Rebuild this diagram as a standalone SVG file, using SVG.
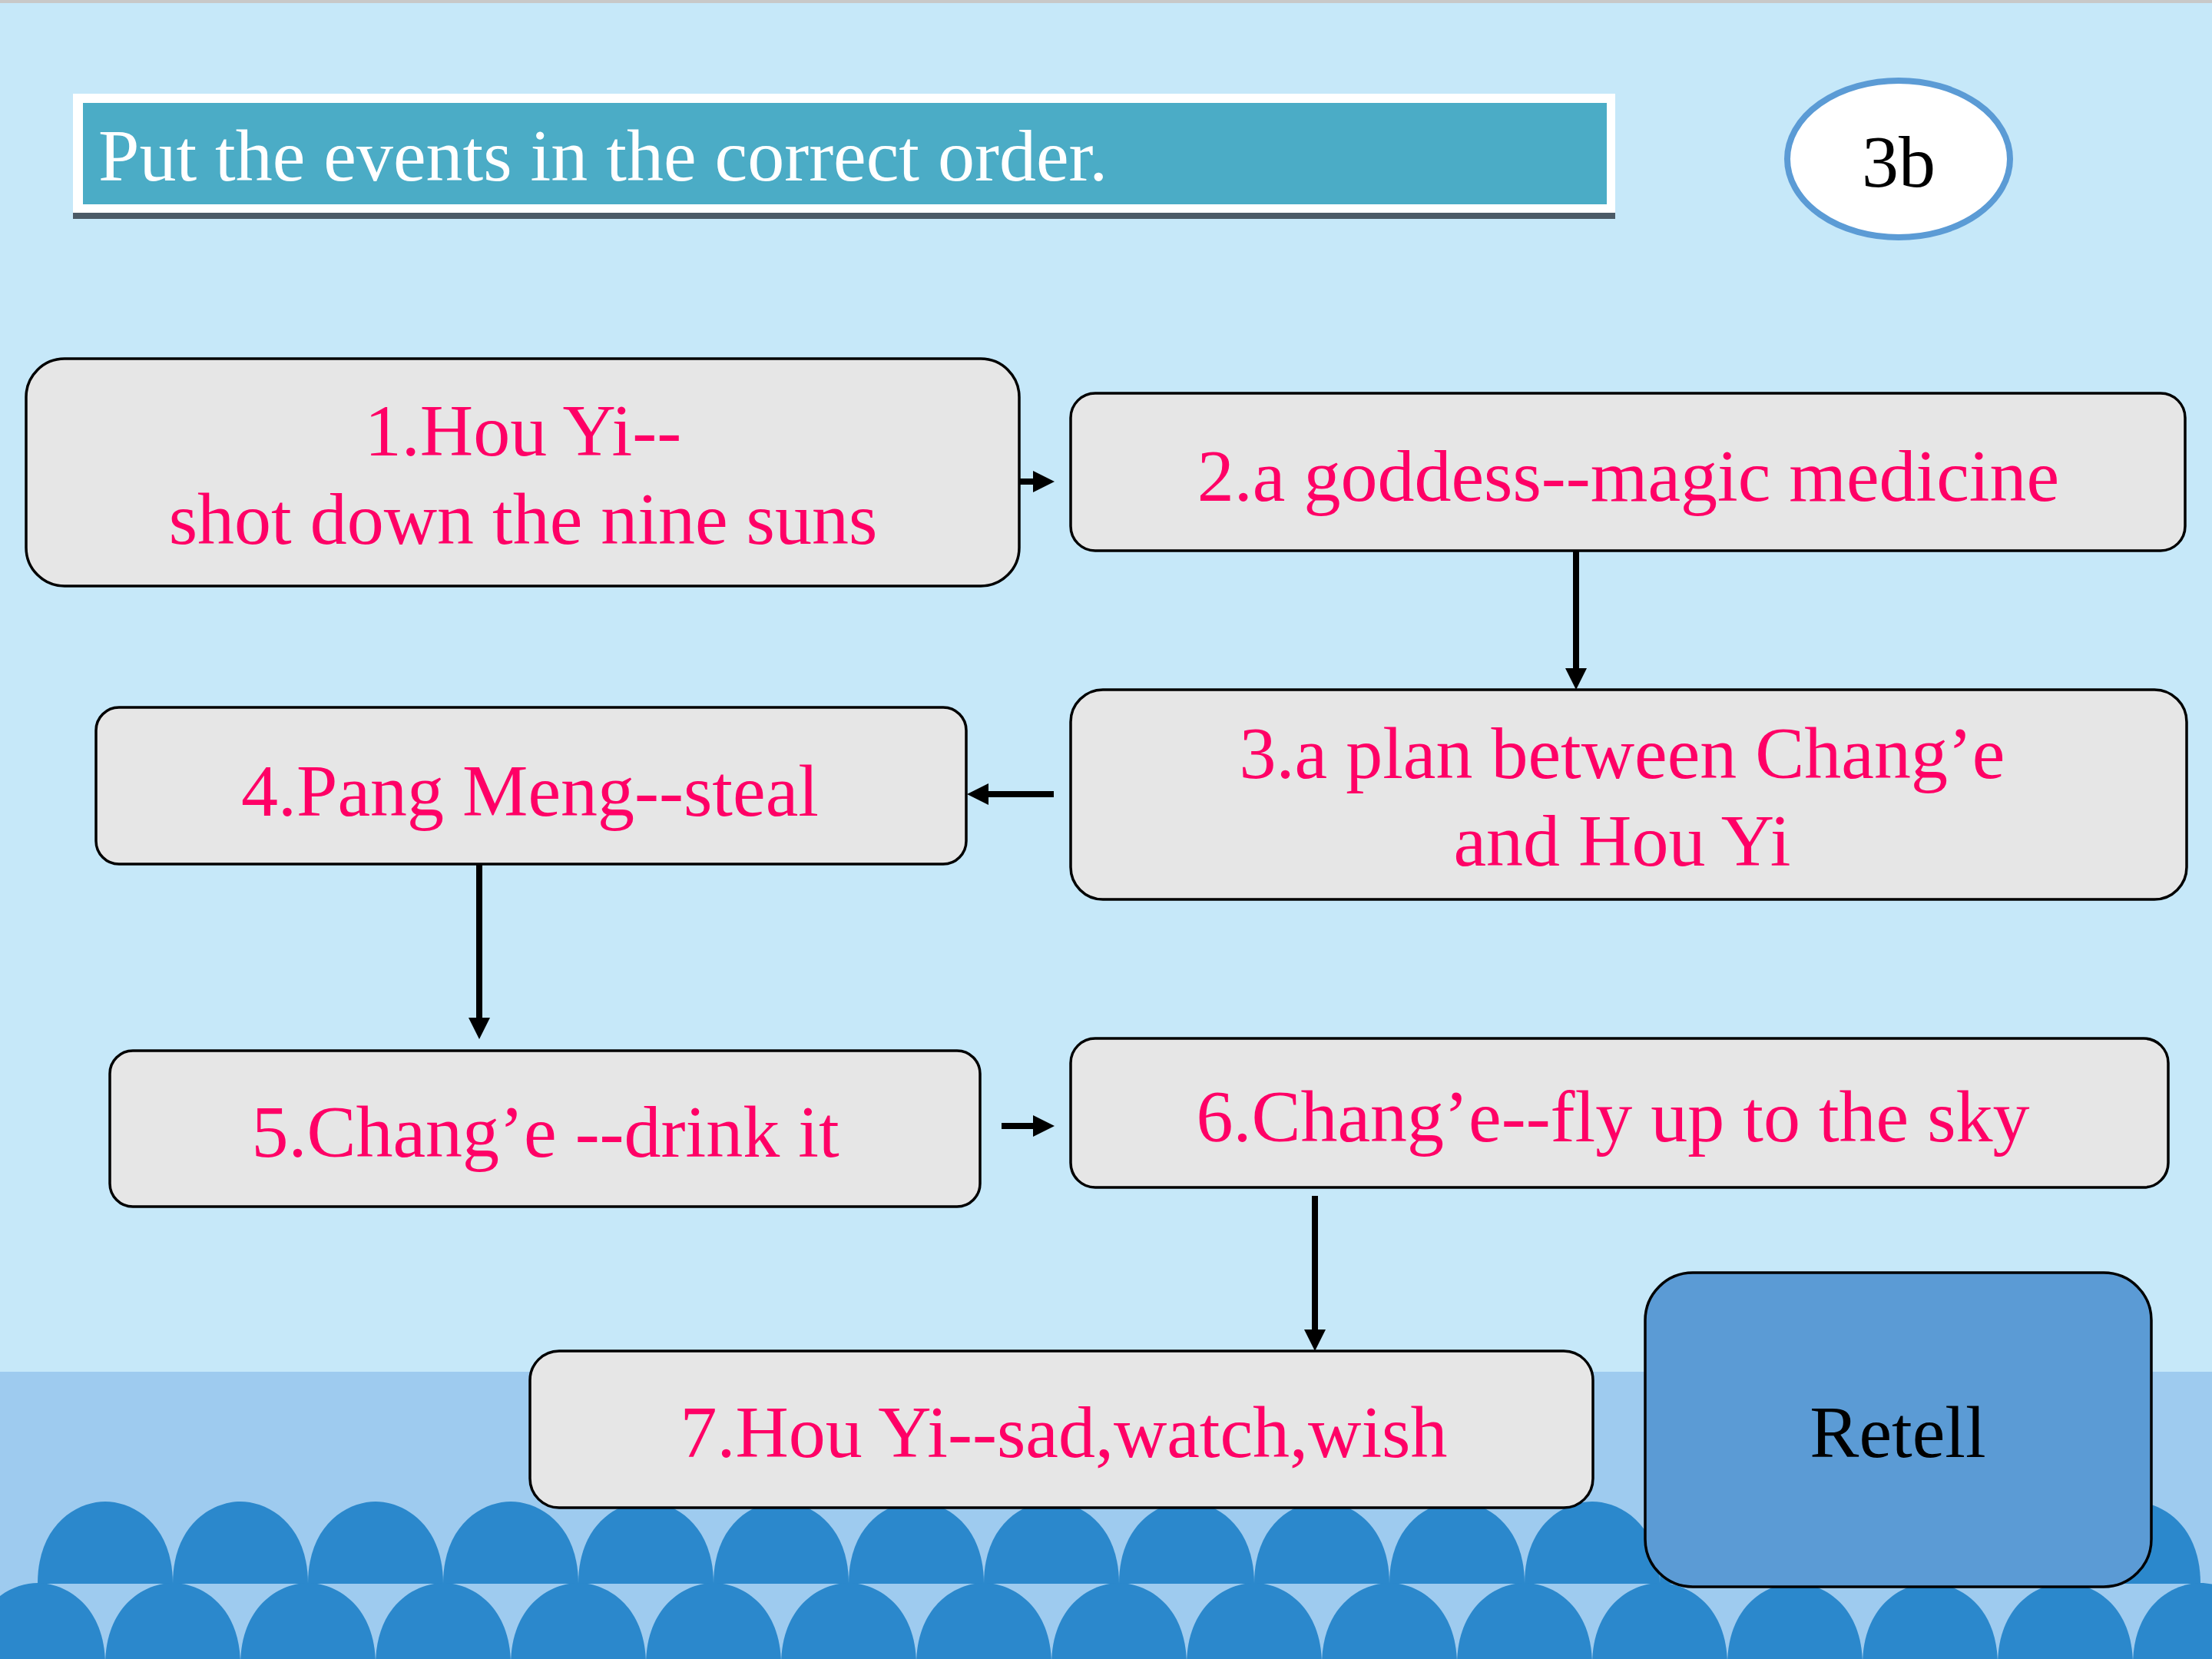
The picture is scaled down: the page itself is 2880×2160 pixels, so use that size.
<svg xmlns="http://www.w3.org/2000/svg" width="2880" height="2160" viewBox="0 0 2880 2160">
<defs>
<style>
.node rect{fill:#e6e6e6;stroke:#000;stroke-width:3.5}
.lbl{font-family:"Liberation Serif","Times New Roman",serif;font-size:96px;fill:#ff0066;text-anchor:middle}
.conn line{stroke:#000;stroke-width:8}
.wave{fill:#2b88cc}
</style>
<marker id="ah" markerUnits="userSpaceOnUse" markerWidth="28" markerHeight="28" viewBox="0 0 27 27" refX="0" refY="13.5" orient="auto">
<path d="M0,0 L27,13.5 L0,27 z" fill="#000"/>
</marker>
<path id="arch" d="M-88,0 C-88,-78 -36,-107 0,-107 C36,-107 88,-78 88,0 z"/>
</defs>
<rect x="0" y="0" width="2880" height="2160" fill="#c6e8f9"/>
<rect x="0" y="0" width="2880" height="4" fill="#c8c8c8"/>
<rect x="0" y="1786" width="2880" height="374" fill="#9ecbef"/>
<g id="waves" class="wave">
<use href="#arch" x="137" y="2062"/><use href="#arch" x="313" y="2062"/><use href="#arch" x="489" y="2062"/><use href="#arch" x="665" y="2062"/><use href="#arch" x="841" y="2062"/><use href="#arch" x="1017" y="2062"/><use href="#arch" x="1193" y="2062"/><use href="#arch" x="1369" y="2062"/><use href="#arch" x="1545" y="2062"/><use href="#arch" x="1721" y="2062"/><use href="#arch" x="1897" y="2062"/><use href="#arch" x="2073" y="2062"/><use href="#arch" x="2249" y="2062"/><use href="#arch" x="2425" y="2062"/><use href="#arch" x="2601" y="2062"/><use href="#arch" x="2777" y="2062"/>
<rect x="0" y="2062" width="2880" height="98" fill="#9ecbef"/>
<use href="#arch" x="49" y="2168"/><use href="#arch" x="225" y="2168"/><use href="#arch" x="401" y="2168"/><use href="#arch" x="577" y="2168"/><use href="#arch" x="753" y="2168"/><use href="#arch" x="929" y="2168"/><use href="#arch" x="1105" y="2168"/><use href="#arch" x="1281" y="2168"/><use href="#arch" x="1457" y="2168"/><use href="#arch" x="1633" y="2168"/><use href="#arch" x="1809" y="2168"/><use href="#arch" x="1985" y="2168"/><use href="#arch" x="2161" y="2168"/><use href="#arch" x="2337" y="2168"/><use href="#arch" x="2513" y="2168"/><use href="#arch" x="2689" y="2168"/><use href="#arch" x="2865" y="2168"/>
</g>
<g id="title">
<rect x="95" y="130" width="2008" height="155" fill="#4b5a66"/>
<rect x="95" y="122" width="2008" height="155" fill="#ffffff"/>
<rect x="108" y="134" width="1984" height="132" fill="#4bacc6"/>
<text x="128" y="235" font-family="Liberation Serif, Times New Roman, serif" font-size="96" fill="#ffffff">Put the events in the correct order.</text>
</g>
<g id="badge">
<ellipse cx="2472" cy="207" rx="145" ry="102" fill="#ffffff" stroke="#5b9bd5" stroke-width="8"/>
<text x="2472" y="243" font-family="Liberation Serif, Times New Roman, serif" font-size="96" fill="#000" text-anchor="middle">3b</text>
</g>
<g id="n1" class="node"><rect x="34" y="467" width="1293" height="296" rx="50" ry="50"/>
<text class="lbl" x="681" y="593">1.Hou Yi--</text><text class="lbl" x="681" y="708">shot down the nine suns</text></g>
<g id="n2" class="node"><rect x="1394" y="512" width="1451" height="205" rx="32" ry="32"/>
<text class="lbl" x="2120" y="652">2.a goddess--magic medicine</text></g>
<g id="n3" class="node"><rect x="1394" y="898" width="1453" height="273" rx="42" ry="42"/>
<text class="lbl" x="2112" y="1013">3.a plan between Chang’e</text><text class="lbl" x="2112" y="1127">and Hou Yi</text></g>
<g id="n4" class="node"><rect x="125" y="921" width="1133" height="204" rx="30" ry="30"/>
<text class="lbl" x="690" y="1062">4.Pang Meng--steal</text></g>
<g id="n5" class="node"><rect x="143" y="1368" width="1133" height="203" rx="30" ry="30"/>
<text class="lbl" x="710" y="1506">5.Chang’e --drink it</text></g>
<g id="n6" class="node"><rect x="1394" y="1352" width="1429" height="194" rx="32" ry="32"/>
<text class="lbl" x="2100" y="1486">6.Chang’e--fly up to the sky</text></g>
<g id="n7" class="node"><rect x="690" y="1759" width="1384" height="204" rx="38" ry="38"/>
<text class="lbl" x="1385" y="1897">7.Hou Yi--sad,watch,wish</text></g>
<g id="retell"><rect x="2142" y="1657" width="659" height="409" rx="62" ry="62" fill="#5b9bd5" stroke="#000" stroke-width="3.5"/>
<text x="2471" y="1897" font-family="Liberation Serif, Times New Roman, serif" font-size="96" fill="#000" text-anchor="middle">Retell</text></g>
<g id="connectors" class="conn">
<line x1="1327" y1="627" x2="1345" y2="627" marker-end="url(#ah)"/>
<line x1="2052" y1="717" x2="2052" y2="870" marker-end="url(#ah)"/>
<line x1="1372" y1="1034" x2="1287" y2="1034" marker-end="url(#ah)"/>
<line x1="624" y1="1125" x2="624" y2="1325" marker-end="url(#ah)"/>
<line x1="1304" y1="1466" x2="1345" y2="1466" marker-end="url(#ah)"/>
<line x1="1712" y1="1557" x2="1712" y2="1731" marker-end="url(#ah)"/>
</g>
</svg>
